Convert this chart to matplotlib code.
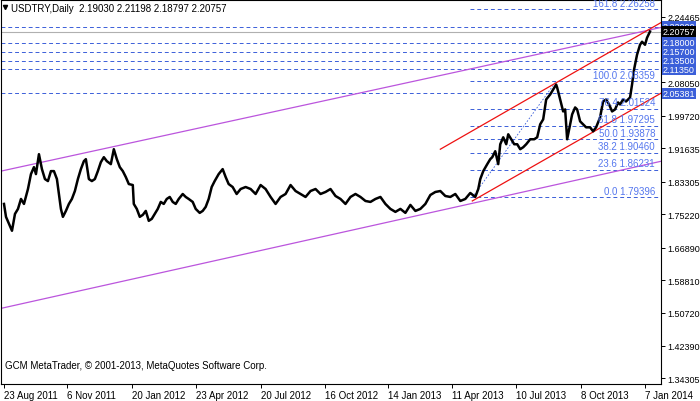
import matplotlib
matplotlib.use('Agg')
import matplotlib.pyplot as plt

plt.rcParams['font.family'] = ['Liberation Sans', 'DejaVu Sans']

# bar positions and closing prices
bars = [3, 5, 8, 11, 14, 17, 20, 23, 27, 30, 33, 35, 38, 41, 44, 47, 50, 53, 56, 58, 60, 62, 65, 68, 71, 74, 77, 80, 83, 85,
        88, 91, 94, 97, 100, 103, 106, 110, 113, 116, 119, 122, 125, 128, 132, 133, 136, 139, 142, 145, 148, 151, 154, 157,
        160, 163, 166, 169, 172, 175, 178, 182, 185, 188, 192, 195, 199, 202, 205, 208, 211, 214, 218, 222, 225, 228, 232,
        236, 240, 245, 250, 255, 260, 265, 270, 275, 280, 285, 290, 295, 300, 305, 310, 315, 320, 325, 330, 335, 340, 345,
        350, 355, 360, 365, 370, 375, 380, 385, 390, 395, 400, 405, 410, 415, 420, 425, 430, 435, 440, 445, 450, 455, 460,
        465, 470, 475, 478, 480, 483, 487, 490, 492, 495, 498, 500, 503, 506, 508, 511, 514, 517, 520, 523, 526, 530, 534,
        537, 540, 543, 546, 550, 553, 556, 557, 560, 563, 565, 567, 569, 572, 575, 577, 580, 583, 586, 590, 593, 596, 600,
        603, 606, 609, 612, 615, 618, 620, 623, 626, 628, 630, 632, 634, 637, 640, 642, 645, 647, 650]
close = [1.7778, 1.7456, 1.7282, 1.7109, 1.7530, 1.7654, 1.7902, 1.7778, 1.8150, 1.8522, 1.8695, 1.8522, 1.9018, 1.8646,
         1.8398, 1.8348, 1.8596, 1.8596, 1.8398, 1.8026, 1.7654, 1.7456, 1.7604, 1.7778, 1.7902, 1.8100, 1.8398, 1.8646,
         1.8844, 1.8894, 1.8398, 1.8348, 1.8398, 1.8596, 1.8819, 1.8943, 1.8844, 1.8770, 1.9142, 1.8894, 1.8695, 1.8596,
         1.8448, 1.8274, 1.8249, 1.7778, 1.7654, 1.7456, 1.7505, 1.7604, 1.7357, 1.7406, 1.7530, 1.7654, 1.7828, 1.7778,
         1.7902, 1.7952, 1.7828, 1.7778, 1.7902, 1.8026, 1.7952, 1.7902, 1.7828, 1.7654, 1.7555, 1.7604, 1.7704, 1.7902,
         1.8200, 1.8348, 1.8522, 1.8646, 1.8448, 1.8274, 1.8200, 1.8026, 1.8150, 1.8200, 1.8150, 1.8026, 1.8249, 1.8150,
         1.7952, 1.7778, 1.7952, 1.8026, 1.8249, 1.8100, 1.8026, 1.7952, 1.8100, 1.8150, 1.8026, 1.8076, 1.8150, 1.7976,
         1.7902, 1.7778, 1.7952, 1.8026, 1.7952, 1.7852, 1.7828, 1.7902, 1.7952, 1.7778, 1.7654, 1.7580, 1.7654, 1.7555,
         1.7753, 1.7604, 1.7654, 1.7778, 1.8001, 1.8076, 1.8100, 1.7976, 1.7952, 1.8026, 1.7852, 1.7902, 1.8051, 1.7952,
         1.8150, 1.8398, 1.8596, 1.8770, 1.8894, 1.8943, 1.9092, 1.8770, 1.9266, 1.9439, 1.9266, 1.9514, 1.9390, 1.9266,
         1.9266, 1.9142, 1.9191, 1.9266, 1.9390, 1.9390, 1.9439, 1.9762, 1.9886, 2.0382, 2.0506, 2.0630, 2.0753, 2.0679,
         2.0382, 2.0084, 2.0134, 1.9390, 1.9638, 2.0010, 2.0183, 2.0134, 1.9836, 1.9762, 1.9687, 1.9687, 1.9588, 1.9687,
         1.9935, 2.0332, 2.0382, 2.0258, 2.0084, 2.0134, 2.0307, 2.0258, 2.0382, 2.0332, 2.0382, 2.0431, 2.0753, 2.1125,
         2.1497, 2.1745, 2.1820, 2.1745, 2.1919, 2.20757]

tick_pos = [3, 66, 131, 195, 260, 324, 388, 452, 516, 581, 645]
tick_labels = ['23 Aug 2011', '6 Nov 2011', '20 Jan 2012', '23 Apr 2012', '20 Jul 2012', '16 Oct 2012',
               '14 Jan 2013', '11 Apr 2013', '10 Jul 2013', '8 Oct 2013', '7 Jan 2014']
price_ticks = [2.24465, 2.08050, 1.99720, 1.91635, 1.83305, 1.75220, 1.66890, 1.58810, 1.50720, 1.42390, 1.34305]

fib_levels = ['161.8', '100.0', '76.4', '61.8', '50.0', '38.2', '23.6', '0.0']
fib_prices = [2.26258, 2.08359, 2.01524, 1.97295, 1.93878, 1.90460, 1.86231, 1.79396]
hlines = [2.22000, 2.18000, 2.15700, 2.13500, 2.11350, 2.05381]
last_price = 2.20757

# trend lines (start bar, start price, end bar, end price)
purple_up = (0, 1.8596, 650, 2.2117)
purple_lo = (0, 1.5175, 657, 1.8819)
red_up = (440, 1.9142, 657, 2.2241)
red_lo = (472, 1.7852, 657, 2.0481)
XMAX = 661
YMIN, YMAX = 1.3290, 2.2861

BLUE = '#3b5fd9'
FS = 7
FSR = 6.5
fig = plt.figure(figsize=(7, 4.02), dpi=100)
ax = fig.add_axes([1 / 700, 1 - 385 / 402, 660 / 700, 384 / 402])
ax.set_xlim(0, XMAX)
ax.set_ylim(YMIN, YMAX)


def seg(line, color):
    x0, y0, x1, y1 = line
    s = (y1 - y0) / (x1 - x0)
    ax.plot([x0, XMAX], [y0, y0 + s * (XMAX - x0)], color=color, lw=0.9)


for h in hlines:
    ax.axhline(h, color=BLUE, lw=0.7, ls=(0, (4, 3)))
for f in fib_prices:
    ax.plot([470, XMAX], [f, f], color=BLUE, lw=0.7, ls=(0, (4, 3)))
ax.axhline(last_price, color='#b0b0b0', lw=0.8)
ax.plot([472, 556], [fib_prices[-1], fib_prices[1]], color=BLUE, lw=0.6, ls=(0, (2, 2)))
seg(purple_up, '#bb55dd')
seg(purple_lo, '#bb55dd')
seg(red_up, '#ee1111')
seg(red_lo, '#ee1111')

ax.plot(bars, close, color='black', lw=1.8)

for lv, p in zip(fib_levels, fib_prices):
    ax.text(655, p + 0.004, f'{lv} {p:.5f}', color='#5577ee', fontsize=FS, ha='right', va='bottom')

ax.set_xticks(tick_pos)
ax.set_xticklabels(tick_labels, fontsize=FS, ha='left')
ax.yaxis.tick_right()
ax.set_yticks(price_ticks)
ax.set_yticklabels([f'{p:.5f}' for p in price_ticks], fontsize=FSR)
ax.tick_params(length=3, width=0.7, pad=1.5)
for s in ax.spines.values():
    s.set_linewidth(0.8)

for h in hlines:
    ax.text(XMAX + 2, h, f'{h:.5f}', fontsize=FSR, color='white', va='center', ha='left',
            bbox=dict(boxstyle='square,pad=0.1', fc=BLUE, ec='none'), clip_on=False)
ax.text(XMAX + 2, last_price, f'{last_price:.5f}', fontsize=FSR, color='white', va='center', ha='left',
        bbox=dict(boxstyle='square,pad=0.1', fc='black', ec='none'), clip_on=False)

ax.text(10, YMAX - 0.008, 'USDTRY,Daily  2.19030 2.21198 2.18797 2.20757', fontsize=FS, va='top')
ax.plot([4], [YMAX - 0.017], marker='v', color='black', ms=3)
ax.text(4, YMIN + 0.035, 'GCM MetaTrader, © 2001-2013, MetaQuotes Software Corp.', fontsize=FS, va='bottom')

fig.savefig('out.png', dpi=100)
